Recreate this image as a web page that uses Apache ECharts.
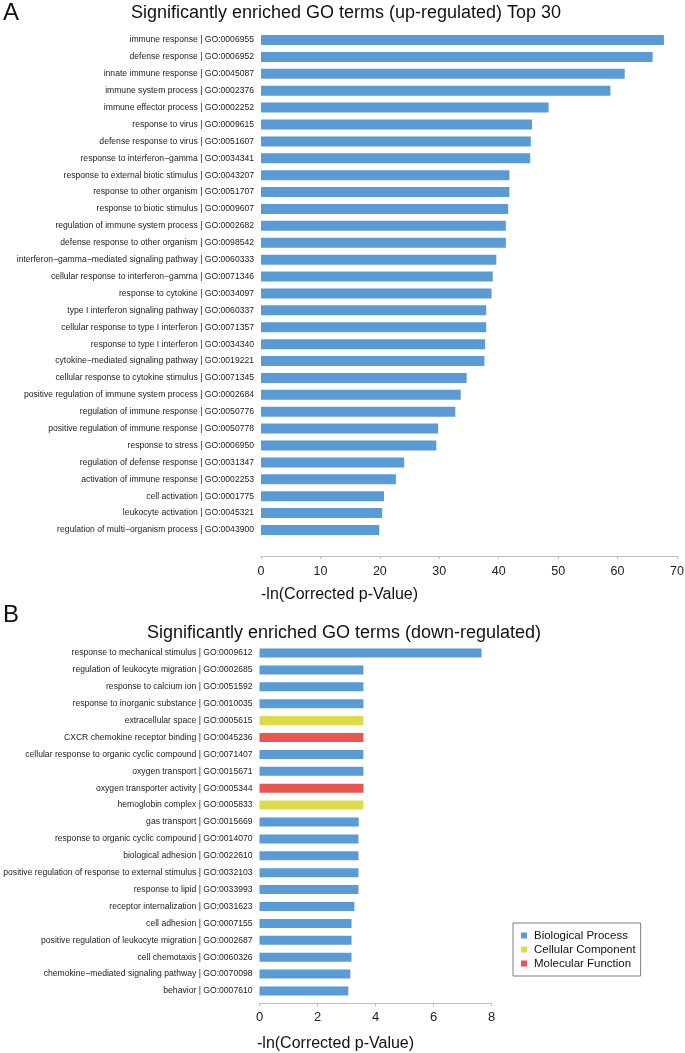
<!DOCTYPE html>
<html>
<head>
<meta charset="utf-8">
<script src="https://cdn.jsdelivr.net/npm/echarts@6/dist/echarts.min.js"></script>
<style>
html,body{margin:0;padding:0;background:#fff;}
#c{width:685px;height:1053px;}
</style>
</head>
<body>
<div id="c"></div>
<script>
// ---- Panel A data (up-regulated, top 30) ----
const upTerms = [
  "immune response | GO:0006955",
  "defense response | GO:0006952",
  "innate immune response | GO:0045087",
  "immune system process | GO:0002376",
  "immune effector process | GO:0002252",
  "response to virus | GO:0009615",
  "defense response to virus | GO:0051607",
  "response to interferon\u2212gamma | GO:0034341",
  "response to external biotic stimulus | GO:0043207",
  "response to other organism | GO:0051707",
  "response to biotic stimulus | GO:0009607",
  "regulation of immune system process | GO:0002682",
  "defense response to other organism | GO:0098542",
  "interferon\u2212gamma\u2212mediated signaling pathway | GO:0060333",
  "cellular response to interferon\u2212gamma | GO:0071346",
  "response to cytokine | GO:0034097",
  "type I interferon signaling pathway | GO:0060337",
  "cellular response to type I interferon | GO:0071357",
  "response to type I interferon | GO:0034340",
  "cytokine\u2212mediated signaling pathway | GO:0019221",
  "cellular response to cytokine stimulus | GO:0071345",
  "positive regulation of immune system process | GO:0002684",
  "regulation of immune response | GO:0050776",
  "positive regulation of immune response | GO:0050778",
  "response to stress | GO:0006950",
  "regulation of defense response | GO:0031347",
  "activation of immune response | GO:0002253",
  "cell activation | GO:0001775",
  "leukocyte activation | GO:0045321",
  "regulation of multi\u2212organism process | GO:0043900"
];
const upValues = [67.8, 65.9, 61.2, 58.8, 48.4, 45.6, 45.4, 45.3, 41.8, 41.8,
                  41.6, 41.2, 41.2, 39.6, 39.0, 38.8, 37.9, 37.9, 37.7, 37.6,
                  34.6, 33.6, 32.7, 29.8, 29.5, 24.1, 22.7, 20.7, 20.4, 19.9];
const upTicks = {min: 0, max: 70, interval: 10};

// ---- Panel B data (down-regulated) ----
const downTerms = [
  "response to mechanical stimulus | GO:0009612",
  "regulation of leukocyte migration | GO:0002685",
  "response to calcium ion | GO:0051592",
  "response to inorganic substance | GO:0010035",
  "extracellular space | GO:0005615",
  "CXCR chemokine receptor binding | GO:0045236",
  "cellular response to organic cyclic compound | GO:0071407",
  "oxygen transport | GO:0015671",
  "oxygen transporter activity | GO:0005344",
  "hemoglobin complex | GO:0005833",
  "gas transport | GO:0015669",
  "response to organic cyclic compound | GO:0014070",
  "biological adhesion | GO:0022610",
  "positive regulation of response to external stimulus | GO:0032103",
  "response to lipid | GO:0033993",
  "receptor internalization | GO:0031623",
  "cell adhesion | GO:0007155",
  "positive regulation of leukocyte migration | GO:0002687",
  "cell chemotaxis | GO:0060326",
  "chemokine\u2212mediated signaling pathway | GO:0070098",
  "behavior | GO:0007610"
];
const downValues = [7.65, 3.58, 3.58, 3.58, 3.58, 3.58, 3.58, 3.58, 3.58, 3.58,
                    3.42, 3.41, 3.41, 3.41, 3.41, 3.27, 3.17, 3.17, 3.17, 3.13, 3.06];
const downClass = ["BP","BP","BP","BP","CC","MF","BP","BP","MF","CC",
                   "BP","BP","BP","BP","BP","BP","BP","BP","BP","BP","BP"];
const classNames = {BP: "Biological Process", CC: "Cellular Component", MF: "Molecular Function"};
const classColors = {BP: "#5B9BD5", CC: "#DCDB4A", MF: "#EA5451"};
const downTicks = {min: 0, max: 8, interval: 2};

const labelFont = "Liberation Sans, Arial, sans-serif";

const chart = echarts.init(document.getElementById('c'), null, {renderer: 'canvas'});

const downSeries = ["BP","CC","MF"].map(k => ({
  name: classNames[k],
  type: 'bar',
  xAxisIndex: 1, yAxisIndex: 1,
  stack: 'down',
  barWidth: 9,
  itemStyle: {color: classColors[k]},
  data: downValues.map((v, i) => downClass[i] === k ? v : '-'),
  silent: true
}));

function valueAxis(idx, t, offset, fs, margin) {
  return {
    type: 'value', gridIndex: idx, min: t.min, max: t.max, interval: t.interval,
    offset: offset,
    axisLine: {show: true, lineStyle: {color: '#BFBFBF', width: 1}},
    axisTick: {show: true, length: 3, lineStyle: {color: '#BFBFBF'}},
    axisLabel: {fontSize: fs, color: '#222', fontFamily: labelFont, margin: margin},
    splitLine: {show: false}
  };
}
function catAxis(idx, data) {
  return {
    type: 'category', gridIndex: idx, data: data, inverse: true,
    axisLine: {show: false}, axisTick: {show: false},
    axisLabel: {fontSize: 8.6, color: '#222', fontFamily: labelFont, margin: 7, interval: 0}
  };
}

chart.setOption({
  animation: false,
  backgroundColor: '#fff',
  grid: [
    {left: 261, width: 416, top: 31.55, height: 506.9, containLabel: false, outerBoundsMode: 'none'},
    {left: 259.5, width: 232.2, top: 644.55, height: 354.9, containLabel: false, outerBoundsMode: 'none'}
  ],
  xAxis: [
    valueAxis(0, upTicks, 17.5, 12.5, 9),
    valueAxis(1, downTicks, 4, 13, 7)
  ],
  yAxis: [catAxis(0, upTerms), catAxis(1, downTerms)],
  legend: {
    data: ["Biological Process", "Cellular Component", "Molecular Function"],
    orient: 'vertical', left: 513, top: 923,
    icon: 'rect', itemWidth: 6, itemHeight: 6, itemGap: 1,
    padding: [6, 5, 6, 8],
    borderColor: '#7F7F7F', borderWidth: 1,
    selectedMode: false,
    textStyle: {fontSize: 11.5, color: '#111', fontFamily: labelFont, lineHeight: 13, padding: [0, 0, 0, 2]}
  },
  series: [
    {
      name: 'up', type: 'bar', xAxisIndex: 0, yAxisIndex: 0,
      barWidth: 10, itemStyle: {color: '#5B9BD5'}, data: upValues, silent: true
    }
  ].concat(downSeries),
  graphic: [
    {type: 'text', left: 3, top: 1, style: {text: 'A', fontSize: 24, fill: '#111', fontFamily: labelFont}},
    {type: 'text', x: 346, y: 13, style: {text: 'Significantly enriched GO terms (up-regulated) Top 30', fontSize: 18, fill: '#111', fontFamily: labelFont, textAlign: 'center', textVerticalAlign: 'middle'}},
    {type: 'text', x: 261, y: 595, style: {text: '-ln(Corrected p-Value)', fontSize: 16, fill: '#111', fontFamily: labelFont, textAlign: 'left', textVerticalAlign: 'middle'}},
    {type: 'text', left: 3, top: 603, style: {text: 'B', fontSize: 24, fill: '#111', fontFamily: labelFont}},
    {type: 'text', x: 344, y: 633, style: {text: 'Significantly enriched GO terms (down-regulated)', fontSize: 18, fill: '#111', fontFamily: labelFont, textAlign: 'center', textVerticalAlign: 'middle'}},
    {type: 'text', x: 257, y: 1044, style: {text: '-ln(Corrected p-Value)', fontSize: 16, fill: '#111', fontFamily: labelFont, textAlign: 'left', textVerticalAlign: 'middle'}}
  ]
});
</script>
</body>
</html>
